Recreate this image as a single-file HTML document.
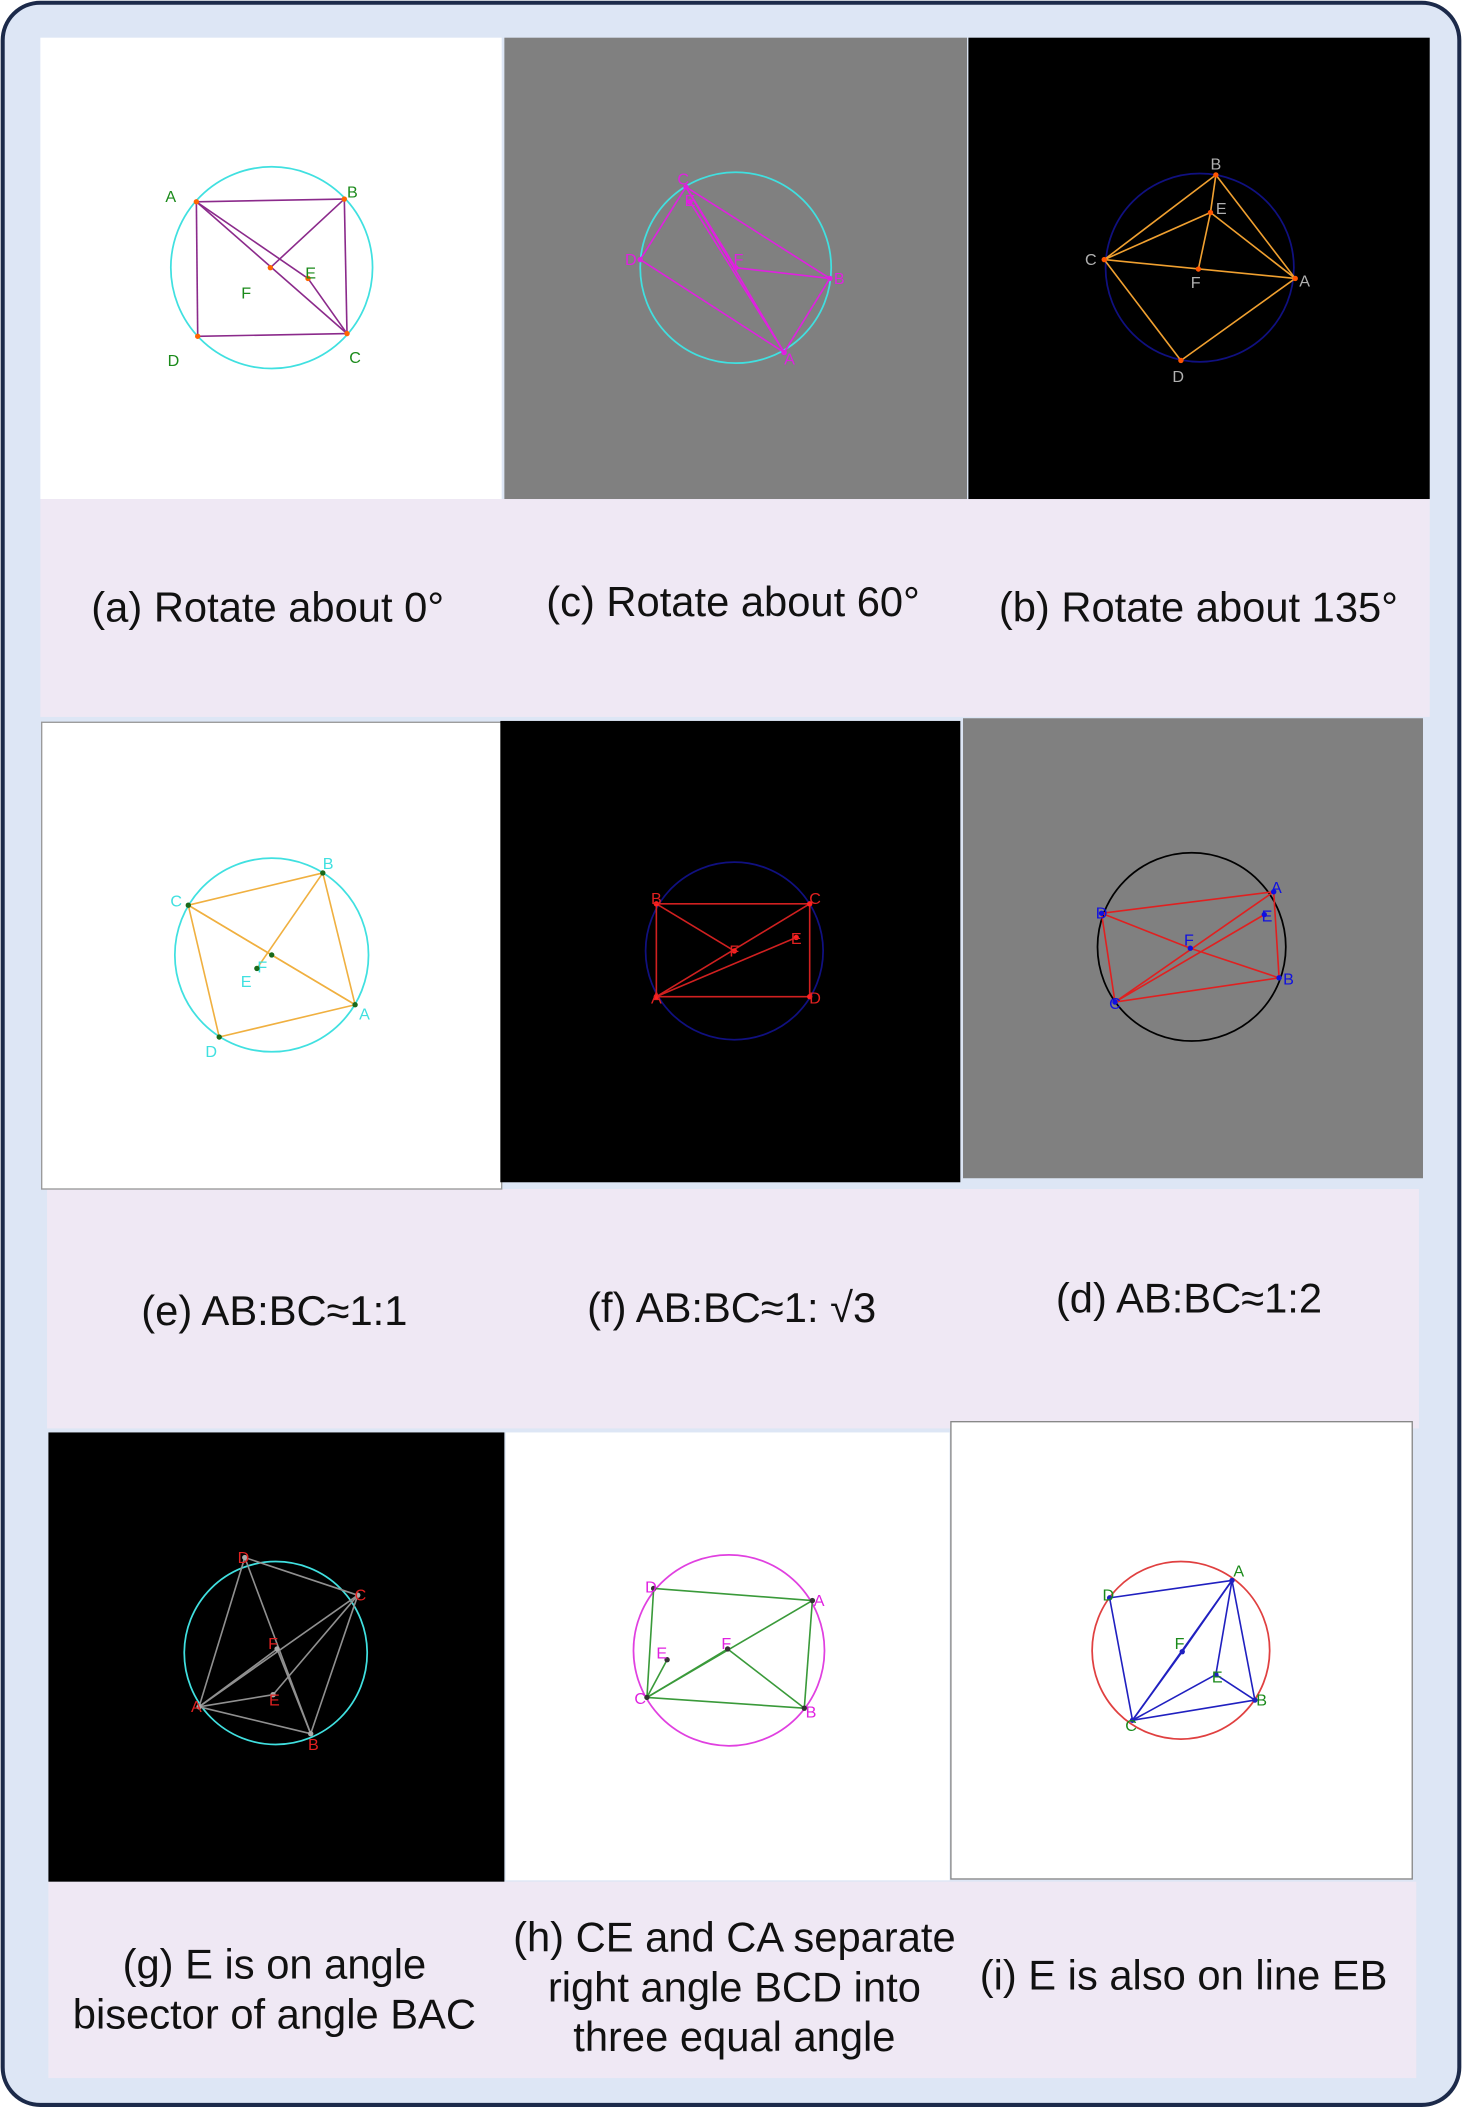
<!DOCTYPE html>
<html><head><meta charset="utf-8"><style>
html,body{margin:0;padding:0;background:#fff;}
svg{display:block;}
text{font-family:"Liberation Sans","DejaVu Sans",sans-serif;}
</style></head><body>
<svg id="fig" width="1462" height="2109" viewBox="0 0 1087 1568" xmlns="http://www.w3.org/2000/svg">
<rect x="2" y="2" width="1083" height="1563" rx="28" fill="#dde6f5" stroke="#1c2a4a" stroke-width="3"/>
<g id="panels"></g>
</svg>
<script>
const panels = [
 {name:'panel-a', x:30,y:28,w:343,h:343,bg:'#ffffff', stroke:'none', circle:[202,199,75], cc:'#40e0e0', lc:'#8b2a8b', tc:'#1a8a1a', dc:'#ff6600',
  pts:{A:[146,150],B:[256,148],C:[258,248],D:[147,250],E:[229,207],F:[201,199]},
  lab:{A:[127,150],B:[262,147],C:[264,270],D:[129,272],E:[231,207],F:[183,222]},
  edges:['AB','BC','CD','DA','AC','BF','AE','EC']},
 {name:'panel-c', x:375,y:28,w:344,h:343,bg:'#808080', stroke:'none', circle:[547,199,71], cc:'#40e0e0', lc:'#e020e0', tc:'#e020e0', dc:'#e020e0',
  pts:{C:[510,139],E:[513,150],D:[476,193],F:[547,199],B:[617,207],A:[583,262]},
  lab:{C:[508,137],E:[513,153],D:[469,197],F:[549,197],B:[624,211],A:[587,271]},
  edges:['CD','DA','AB','BC','CA','EA','FB','CF']},
 {name:'panel-b', x:720,y:28,w:343,h:343,bg:'#000000', stroke:'none', circle:[892,199,70], cc:'#101080', lc:'#f0a030', tc:'#b0b0b0', dc:'#ff5500',
  pts:{B:[904,130],E:[900,158],C:[821,193],F:[891,200],A:[963,207],D:[878,268]},
  lab:{B:[904,126],E:[908,159],C:[811,197],F:[889,214],A:[970,213],D:[876,284]},
  edges:['CB','BA','AD','DC','CA','CE','EA','EF','BE']},
 {name:'panel-e', x:31,y:537,w:342,h:347,bg:'#ffffff', stroke:'#999', circle:[202,710,72], cc:'#40e0e0', lc:'#f0b040', tc:'#40e0e0', dc:'#1a6a1a',
  pts:{B:[240,649],C:[140,673],A:[264,747],D:[163,771],F:[202,710],E:[191,720]},
  lab:{B:[244,646],C:[131,674],A:[271,758],D:[157,786],F:[195,723],E:[183,734]},
  edges:['BC','CD','DA','AB','CA','BE','CF','FA']},
 {name:'panel-f', x:372,y:536,w:342,h:343,bg:'#000000', stroke:'none', circle:[546,707,66], cc:'#101080', lc:'#d02020', tc:'#e02020', dc:'#ff2020',
  pts:{B:[488,672],C:[602,672],D:[602,741],A:[488,741],F:[546,707],E:[592,697]},
  lab:{B:[488,672],C:[606,672],D:[606,746],A:[488,746],F:[546,711],E:[592,702]},
  edges:['BC','CD','DA','AB','AC','BF','AE']},
 {name:'panel-d', x:716,y:534,w:342,h:342,bg:'#808080', stroke:'none', circle:[886,704,70], cc:'#000000', lc:'#e02020', tc:'#1010e0', dc:'#1010e0',
  pts:{A:[947,663],E:[940,680],D:[819,679],F:[885,705],B:[951,727],C:[829,745]},
  lab:{A:[949,664],E:[942,685],D:[819,683],F:[884,703],B:[958,732],C:[829,750]},
  edges:['DA','AB','BC','CD','CA','CE','DF','FB']},
 {name:'panel-g', x:36,y:1065,w:339,h:334,bg:'#000000', stroke:'none', circle:[205,1229,68], cc:'#40e0e0', lc:'#909090', tc:'#e02020', dc:'#aaaaaa',
  pts:{D:[182,1158],C:[266,1186],F:[206,1226],A:[148,1269],E:[203,1260],B:[231,1289]},
  lab:{D:[181,1162],C:[268,1190],F:[203,1226],A:[146,1273],E:[204,1268],B:[233,1301]},
  edges:['AD','DC','CB','BA','AC','AE','AF','FB','EC','DB']},
 {name:'panel-h', x:376,y:1065,w:330,h:333,bg:'#ffffff', stroke:'none', circle:[542,1227,71], cc:'#e040e0', lc:'#3a9a3a', tc:'#e020e0', dc:'#333333',
  pts:{D:[486,1181],A:[604,1190],F:[541,1226],E:[496,1234],C:[481,1262],B:[598,1270]},
  lab:{D:[484,1184],A:[609,1194],F:[540,1226],E:[492,1233],C:[476,1267],B:[603,1277]},
  edges:['DA','AB','BC','CD','CA','CE','CF','FB']},
 {name:'panel-i', x:707,y:1057,w:343,h:340,bg:'#ffffff', stroke:'#888', circle:[878,1227,66], cc:'#e04040', lc:'#2020c0', tc:'#1a8a1a', dc:'#2020c0',
  pts:{D:[825,1188],A:[916,1175],F:[879,1228],E:[904,1245],C:[842,1279],B:[933,1264]},
  lab:{D:[824,1190],A:[921,1172],F:[877,1226],E:[905,1251],C:[841,1287],B:[938,1268]},
  edges:['DA','AB','BC','CD','CA','CE','EA','EB','FA','FC']}
];
const captionBoxes = [[30,371,1033,162],[35,884,1020,178],[36,1399,1017,146]];
const captions = [
 {name:'caption-a',x:199,lines:['(a) Rotate about 0°'],y:462},
 {name:'caption-c',x:545,lines:['(c) Rotate about 60°'],y:458},
 {name:'caption-b',x:891,lines:['(b) Rotate about 135°'],y:462},
 {name:'caption-e',x:204,lines:['(e) AB:BC≈1:1'],y:985},
 {name:'caption-f',x:544,lines:['(f) AB:BC≈1: √3'],y:983},
 {name:'caption-d',x:884,lines:['(d) AB:BC≈1:2'],y:976},
 {name:'caption-g',x:204,lines:['(g) E is on angle','bisector of angle BAC'],y:1471},
 {name:'caption-h',x:546,lines:['(h) CE and CA separate','right angle BCD into','three equal angle'],y:1451},
 {name:'caption-i',x:880,lines:['(i) E is also on line EB'],y:1479}
];
const NS='http://www.w3.org/2000/svg';
const root=document.getElementById('panels');
function mk(tag,attrs,parent){const e=document.createElementNS(NS,tag);for(const k in attrs)e.setAttribute(k,attrs[k]);parent.appendChild(e);return e;}
captionBoxes.forEach((b,i)=>{
 const r=mk('rect',{x:b[0],y:b[1],width:b[2],height:b[3],fill:'#efe8f4'},root);
 
 
});
panels.forEach(p=>{
 const g=mk('g',{},root);
 
 
 mk('rect',{x:p.x,y:p.y,width:p.w,height:p.h,fill:p.bg,stroke:p.stroke,'stroke-width':1},g);
 const c=mk('circle',{cx:p.circle[0],cy:p.circle[1],r:p.circle[2],fill:'none',stroke:p.cc,'stroke-width':1.3},g);
 
 
 p.edges.forEach(ed=>{
  const a=p.pts[ed[0]],b=p.pts[ed[1]];
  const l=mk('line',{x1:a[0],y1:a[1],x2:b[0],y2:b[1],stroke:p.lc,'stroke-width':1.2},g);
  
  
 });
 for(const k in p.pts){
  const pt=p.pts[k];
  mk('circle',{cx:pt[0],cy:pt[1],r:2,fill:p.dc},g);
  const t=mk('text',{x:p.lab[k][0],y:p.lab[k][1],fill:p.tc,'font-size':12,'text-anchor':'middle'},g);
  t.textContent=k;
  
  
 }
});
captions.forEach(c=>{
 const t=mk('text',{x:c.x,y:c.y,fill:'#111','font-size':31,'text-anchor':'middle'},root);
 
 
 c.lines.forEach((ln,i)=>{const s=mk('tspan',{x:c.x,dy:i?37:0},t);s.textContent=ln;});
});
</script>
</body></html>
